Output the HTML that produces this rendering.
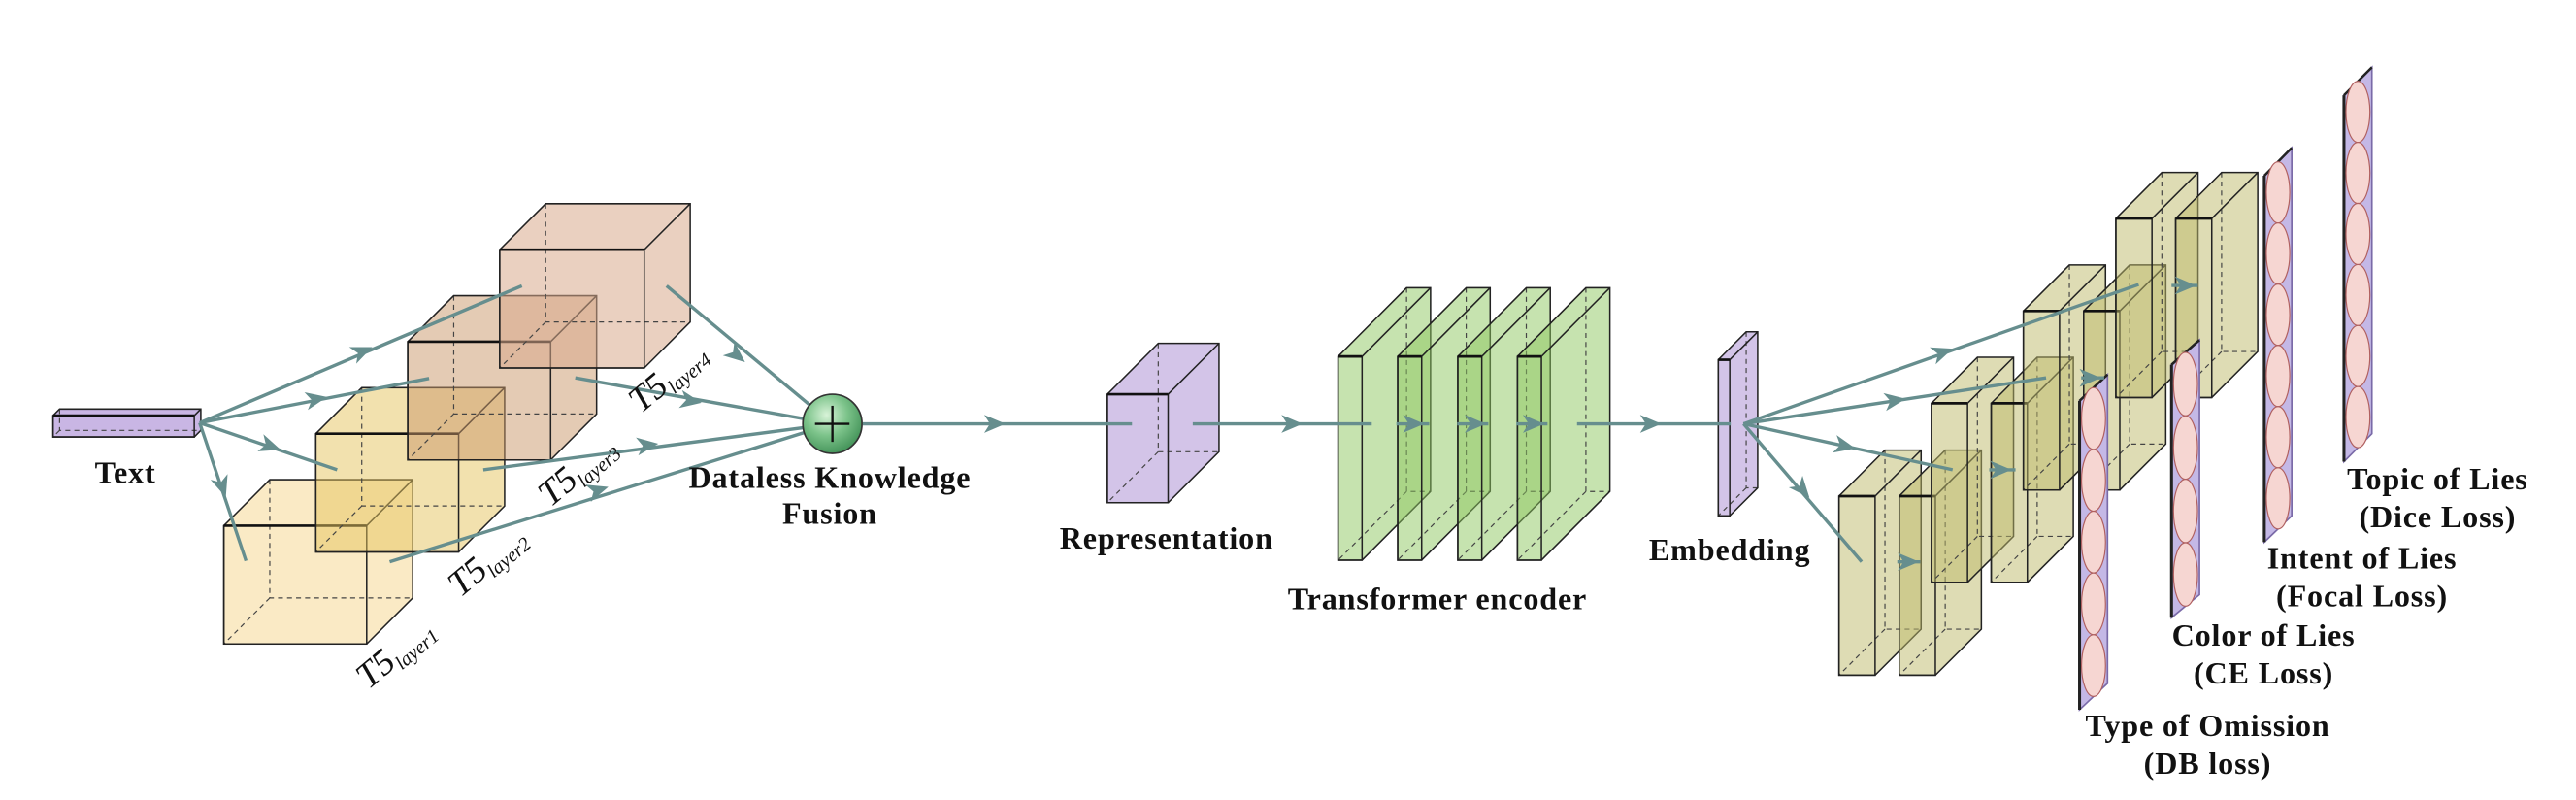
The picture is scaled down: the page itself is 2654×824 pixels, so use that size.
<!DOCTYPE html>
<html><head><meta charset="utf-8"><style>
html,body{margin:0;padding:0;background:#fff;}
svg{display:block}
text{font-family:"Liberation Serif",serif;fill:#111}
.lb{font-weight:bold;font-size:19px;letter-spacing:0.5px;text-anchor:middle}
.t5{font-style:italic;font-size:22px}
</style></head><body>
<svg id="s" width="2654" height="824" viewBox="0 0 1568 487" xmlns="http://www.w3.org/2000/svg">
<g id="shapes"></g>
<g id="arrows"></g>
<circle cx="506.6" cy="258" r="18" fill="url(#g)" stroke="#333" stroke-width="1"/>
<defs><radialGradient id="g" cx="0.4" cy="0.35" r="0.7"><stop offset="0" stop-color="#d8f3d8"/><stop offset="0.5" stop-color="#7cc38a"/><stop offset="1" stop-color="#3f8f55"/></radialGradient></defs>
<line x1="496" y1="258" x2="517" y2="258" stroke="#111" stroke-width="1.4"/>
<line x1="506.6" y1="247" x2="506.6" y2="269" stroke="#111" stroke-width="1.4"/>
<text class="lb" x="76" y="294">Text</text>
<text class="lb" x="505" y="297">Dataless Knowledge</text>
<text class="lb" x="505" y="319">Fusion</text>
<text class="lb" x="710" y="334">Representation</text>
<text class="lb" x="875" y="371">Transformer encoder</text>
<text class="lb" x="1053" y="341">Embedding</text>
<text class="lb" x="1484" y="298">Topic of Lies</text>
<text class="lb" x="1484" y="321">(Dice Loss)</text>
<text class="lb" x="1438" y="346">Intent of Lies</text>
<text class="lb" x="1438" y="369">(Focal Loss)</text>
<text class="lb" x="1378" y="393">Color of Lies</text>
<text class="lb" x="1378" y="416">(CE Loss)</text>
<text class="lb" x="1344" y="448">Type of Omission</text>
<text class="lb" x="1344" y="471">(DB loss)</text>
<text class="t5" transform="translate(224,420) rotate(-40)">T5<tspan font-size="12" dy="4">layer1</tspan></text>
<text class="t5" transform="translate(280,364) rotate(-40)">T5<tspan font-size="12" dy="4">layer2</tspan></text>
<text class="t5" transform="translate(335,309) rotate(-40)">T5<tspan font-size="12" dy="4">layer3</tspan></text>
<text class="t5" transform="translate(390,252) rotate(-40)">T5<tspan font-size="12" dy="4">layer4</tspan></text>
</svg>
<script>
var NS="http://www.w3.org/2000/svg";
var S=document.getElementById("shapes"),A=document.getElementById("arrows");
function el(p,t,a){var e=document.createElementNS(NS,t);for(var k in a)e.setAttribute(k,a[k]);p.appendChild(e);return e;}
function P(a){return a.map(function(p){return p[0].toFixed(1)+","+p[1].toFixed(1)}).join(" ");}
function box(x,y,w,h,dx,dy,fill,op){
 var sil=[[x,y+h],[x,y],[x+dx,y+dy],[x+w+dx,y+dy],[x+w+dx,y+h+dy],[x+w,y+h]];
 el(S,"polygon",{points:P(sil),fill:fill,"fill-opacity":op,stroke:"none"});
 var d={stroke:"#444","stroke-width":0.7,"stroke-dasharray":"3,2.5",fill:"none"};
 el(S,"polyline",Object.assign({points:P([[x+dx,y+dy],[x+dx,y+h+dy],[x+w+dx,y+h+dy]])},d));
 el(S,"line",Object.assign({x1:x+dx,y1:y+h+dy,x2:x,y2:y+h},d));
 el(S,"polygon",{points:P(sil),fill:"none",stroke:"#222","stroke-width":0.9});
 el(S,"rect",{x:x,y:y,width:w,height:h,fill:"none",stroke:"#222","stroke-width":0.9});
 el(S,"line",{x1:x,y1:y,x2:x+w,y2:y,stroke:"#111","stroke-width":1.6});
 el(S,"line",{x1:x+w,y1:y,x2:x+w+dx,y2:y+dy,stroke:"#222","stroke-width":0.9});
}
var AC="#668e8e";
function head(hx,hy,ang){
 el(A,"path",{d:"M7,0 L-6,-5.5 L-2.5,0 L-6,5.5 Z",fill:AC,transform:"translate("+hx+","+hy+") rotate("+ang+")"});
}
function arrow(x1,y1,x2,y2,hx,hy){
 el(A,"line",{x1:x1,y1:y1,x2:x2,y2:y2,stroke:AC,"stroke-width":2});
 if(hx!==undefined)head(hx,hy,Math.atan2(y2-y1,x2-x1)*180/Math.PI);
}
box(32,253,86,13,4,-4,"#c9b6e4",1);
box(136,320,87,72,28,-28,"#f5d17f",0.45);
box(192,264,87,72,28,-28,"#e5c35e",0.5);
box(248,208,87,72,28,-28,"#c9976a",0.5);
box(304,152,88,72,28,-28,"#d9a98c",0.55);
box(674,240,37,66,31,-31,"#d3c4e8",1);
[814.5,850.8,887.4,923.7].forEach(function(x){box(x,217,14.6,124,41.7,-41.8,"#8dc860",0.5);});
box(1046,219,7,95,17,-17,"#d3c4e8",1);
[[1119.5,302],[1156.2,302],[1175.8,245.5],[1212.2,245.5],[1231.8,189.3],[1268.5,189.3],[1288.1,133],[1324.5,133]].forEach(function(b){box(b[0],b[1],22,109,28,-28,"#bdb96a",0.5);});
function plate(xl,xr,lt,lb,rt,rb,n){
 var pts=[[xl,lt],[xr,rt],[xr,rb],[xl,lb]];
 el(S,"polygon",{points:P(pts),fill:"#c4b8e6",stroke:"#7a6aa8","stroke-width":1});
 el(S,"line",{x1:xl,y1:lt,x2:xl,y2:lb,stroke:"#222","stroke-width":1.8});
 el(S,"line",{x1:xl,y1:lt,x2:xr,y2:rt,stroke:"#222","stroke-width":1.5});
 var cx=(xl+xr)/2,top=(lt+rt)/2,bot=(lb+rb)/2,hh=(bot-top)/n;
 for(var i=0;i<n;i++){el(S,"ellipse",{cx:cx,cy:top+hh*(i+0.5),rx:(xr-xl)/2-1.2,ry:hh/2,fill:"#f6d6d2",stroke:"#b06060","stroke-width":0.7});}
}
plate(1266,1283,244,432,228,416,5);
plate(1322,1339,222,376,207,362,4);
plate(1378.5,1395.2,107,330,90,314,6);
plate(1427,1444,58,281,41,264,6);
var tx=121.3,ty=257.4;
arrow(tx,ty,317.5,174,220,214);
arrow(tx,ty,261,230.4,192,243);
arrow(tx,ty,205,286,164,271.5);
arrow(tx,ty,149.5,341.4,135,296);
var cx=506.6,cy=258;
arrow(405.6,174,cx,cy,448,216);
arrow(350,230,cx,cy,420,244);
arrow(294,286,cx,cy,393.6,271);
arrow(237,342,cx,cy,363.5,298.5);
arrow(525,258,674,258,605,258);
arrow(674,258,689,258);
arrow(726,258,835,258,786,258);
arrow(850,258,870,258,860,258);
arrow(887,258,906,258,897.6,258);
arrow(923,258,942,258,933,258);
arrow(960,258,1053.6,258,1004.4,258);
var ex=1061.4,ey=258;
arrow(ex,ey,1302,173.2,1182.2,214.6);
arrow(ex,ey,1245.6,230,1153.3,243.8);
arrow(ex,ey,1188.7,286,1122.7,271.5);
arrow(ex,ey,1133.3,342,1097,297.7);
arrow(1322,173.8,1338,173.8,1330,173.8);
arrow(1267,230,1281,230,1272,230);
arrow(1211,286,1227,286,1217.6,286);
arrow(1155,342,1169,342,1161.3,342);
</script>
</body></html>
